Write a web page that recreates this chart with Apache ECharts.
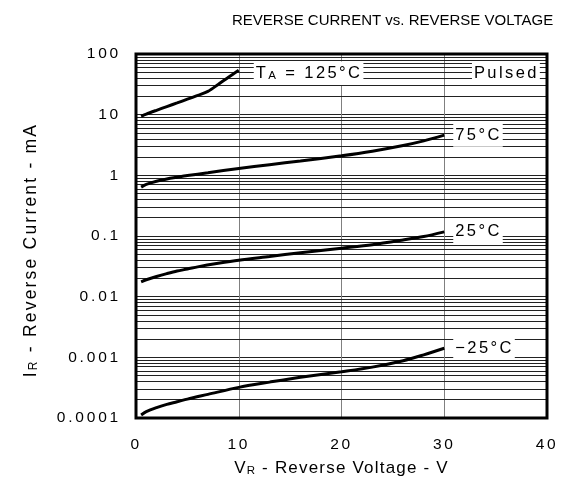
<!DOCTYPE html>
<html><head><meta charset="utf-8">
<script src="https://cdn.jsdelivr.net/npm/echarts@6/dist/echarts.min.js"></script>
<style>html,body{margin:0;padding:0;background:#fff}#c{width:577px;height:497px}</style>
</head><body><div id="c"></div>
<script>
// letter spacing: encoded in the 2nd/3rd decimals of the font size (e.g. 15.525px -> 15.5px font, 2.5px spacing)
(function(){
  var P = CanvasRenderingContext2D.prototype;
  var ft = P.fillText, st = P.strokeText, mt = P.measureText;
  function ls(ctx){
    var m = /(\d+)\.(\d+)px/.exec(ctx.font);
    var sp = 0;
    if (m) { var k = Math.round(parseFloat('0.' + m[2]) * 1000); sp = (k % 100) / 10; }
    try { ctx.letterSpacing = sp + 'px'; } catch(e) {}
  }
  P.fillText = function(){ ls(this); return ft.apply(this, arguments); };
  P.strokeText = function(){ ls(this); return st.apply(this, arguments); };
  P.measureText = function(){ ls(this); return mt.apply(this, arguments); };
})();

const titleText = 'REVERSE CURRENT vs. REVERSE VOLTAGE';
const xTicks = [0, 10, 20, 30, 40];
const yTickLabels = ['0.0001', '0.001', '0.01', '0.1', '1', '10', '100'];
const decades = [0.0001, 0.001, 0.01, 0.1, 1, 10];
const minorMultiples = [2, 3, 4, 5, 6, 7, 8, 9];

const v125 = [0.5, 1, 2, 3, 4, 5, 6, 7, 8, 9, 10];
const i125 = [9.4, 10.2, 11.8, 13.6, 15.6, 18, 20.8, 24.2, 31.5, 41.5, 54];

const v75 = [0.5, 1, 2, 3, 4, 5, 7, 10, 13, 16, 20, 23, 26, 28, 30];
const i75 = [0.64, 0.71, 0.8, 0.87, 0.93, 0.99, 1.1, 1.3, 1.5, 1.72, 2.1, 2.5, 3.1, 3.7, 4.6];

const v25 = [0.5, 1, 2, 3, 4, 5, 6, 8, 10, 13, 16, 20, 23, 26, 28, 30];
const i25 = [0.0176, 0.019, 0.0215, 0.024, 0.0265, 0.0285, 0.031, 0.0355, 0.040, 0.046, 0.053, 0.063, 0.072, 0.086, 0.098, 0.117];

const vm25 = [0.5, 1, 2, 3, 4, 5, 7, 10, 13, 16, 20, 23, 26, 28, 30];
const im25 = [0.000112, 0.000127, 0.000148, 0.000168, 0.000185, 0.000205, 0.000245, 0.00032, 0.00039, 0.00047, 0.00058, 0.00069, 0.00088, 0.0011, 0.00141];

const curveLabels = ['T_A = 125°C', '75°C', '25°C', '−25°C'];
const pulsedText = 'Pulsed';
const pulsedAt = [36, 48];

const pairs = (xs, ys) => xs.map((x, k) => [x, ys[k]]);
const minorLines = decades.flatMap(d => minorMultiples.map(m => ({ yAxis: +(d * m).toPrecision(3) })));

const lblFont = 16.524;
const lblPad = [2, 1, 2, 2];
function curve(name, xs, ys, label, extra) {
  return Object.assign({
    name: name, type: 'line', data: pairs(xs, ys), smooth: 0.3, showSymbol: false, z: 3,
    lineStyle: { color: '#000', width: 3 }, animation: false, silent: true,
    endLabel: {
      show: true, formatter: label, color: '#000', fontFamily: 'Arial', fontSize: lblFont,
      backgroundColor: '#fff', padding: lblPad, distance: 9
    }
  }, extra || {});
}

const chart = echarts.init(document.getElementById('c'), null, { renderer: 'canvas' });
chart.setOption({
  backgroundColor: '#fff',
  animation: false,
  title: {
    text: titleText, left: 227, top: 8,
    textStyle: { fontFamily: 'Arial', fontSize: 15, fontWeight: 'normal', color: '#000' }
  },
  grid: { left: 136, right: 30, top: 54, bottom: 79, show: true, borderColor: '#000', borderWidth: 3, backgroundColor: 'transparent', z: 4 },
  xAxis: {
    type: 'value', min: xTicks[0], max: xTicks[xTicks.length - 1], interval: 10,
    axisLine: { show: false }, axisTick: { show: false },
    splitLine: { show: true, lineStyle: { color: '#808080', width: 1 } },
    axisLabel: { margin: 17, color: '#000', fontFamily: 'Arial', fontSize: 15.525 },
    name: '{a|V}{b|R}{a| - Reverse Voltage - V}', nameLocation: 'middle', nameGap: 41,
    nameTextStyle: { color: '#000', rich: {
      a: { fontFamily: 'Arial', fontSize: 17.012, color: '#000' },
      b: { fontFamily: 'Arial', fontSize: 11.512, color: '#000', verticalAlign: 'bottom' } } }
  },
  yAxis: {
    type: 'log', logBase: 10, min: 0.0001, max: 100,
    axisLine: { show: false }, axisTick: { show: false },
    splitLine: { show: true, lineStyle: { color: '#222', width: 1 } },
    axisLabel: { margin: 15, color: '#000', fontFamily: 'Arial', fontSize: 15.528,
      formatter: v => yTickLabels[Math.round(Math.log10(v)) + 4] },
    name: '{a|I}{b|R}{a| - Reverse Current - mA}', nameLocation: 'middle', nameGap: 95,
    nameTextStyle: { color: '#000', padding: [0, 28, 0, 0], rich: {
      a: { fontFamily: 'Arial', fontSize: 17.522, color: '#000' },
      b: { fontFamily: 'Arial', fontSize: 12.022, color: '#000', verticalAlign: 'bottom' } } }
  },
  series: [
    {
      name: 'grid', type: 'line', data: [], z: 1, silent: true, animation: false,
      markLine: {
        z: 1, silent: true, symbol: ['none', 'none'], animation: false, precision: 8,
        label: { show: false },
        lineStyle: { color: '#222', width: 1, type: 'solid' },
        emphasis: { disabled: true },
        data: minorLines
      }
    },
    curve('125', v125, i125, '{a|T}{b|A}{a| = 125°C}', {
      endLabel: {
        show: true, formatter: '{a|T}{b|A}{a| = 125°C}', backgroundColor: '#fff',
        padding: lblPad, distance: 15, offset: [0, 3],
        rich: { a: { fontFamily: 'Arial', fontSize: lblFont, color: '#000' },
                b: { fontFamily: 'Arial', fontSize: 11.524, color: '#000', verticalAlign: 'bottom' } }
      },
      markPoint: {
        z: 6, symbol: 'rect', symbolSize: 1, itemStyle: { color: 'rgba(0,0,0,0)' }, silent: true, animation: false,
        label: { show: true, position: 'inside', formatter: pulsedText, color: '#000', fontFamily: 'Arial',
          fontSize: lblFont, backgroundColor: '#fff', padding: lblPad },
        data: [{ coord: pulsedAt }]
      }
    }),
    curve('75', v75, i75, curveLabels[1]),
    curve('25', v25, i25, curveLabels[2]),
    curve('-25', vm25, im25, curveLabels[3])
  ]
});
</script></body></html>
